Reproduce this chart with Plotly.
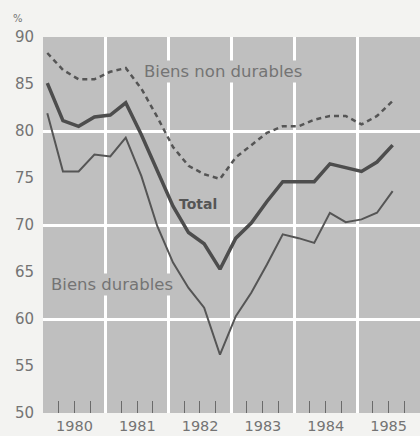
import pandas as pd
import plotly.graph_objects as go

quarters = ["1980Q1", "1980Q2", "1980Q3", "1980Q4",
            "1981Q1", "1981Q2", "1981Q3", "1981Q4",
            "1982Q1", "1982Q2", "1982Q3", "1982Q4",
            "1983Q1", "1983Q2", "1983Q3", "1983Q4",
            "1984Q1", "1984Q2", "1984Q3", "1984Q4",
            "1985Q1", "1985Q2", "1985Q3"]

non_durables = [88.3, 86.5, 85.5, 85.5, 86.3, 86.7, 84.5, 81.5, 78.3, 76.3, 75.4, 74.9,
                77.2, 78.5, 79.8, 80.5, 80.5, 81.2, 81.6, 81.6, 80.7, 81.6, 83.2]
total = [85.1, 81.1, 80.5, 81.5, 81.7, 83.0, 79.6, 75.8, 72.0, 69.2, 68.0, 65.3,
         68.6, 70.2, 72.5, 74.6, 74.6, 74.6, 76.5, 76.1, 75.7, 76.7, 78.5]
durables = [81.9, 75.7, 75.7, 77.5, 77.3, 79.3, 75.2, 69.9, 66.0, 63.3, 61.2, 56.2,
            60.3, 62.8, 65.8, 69.0, 68.6, 68.1, 71.3, 70.3, 70.6, 71.3, 73.6]

y_ticks = [50, 55, 60, 65, 70, 75, 80, 85, 90]
y_grid = [60, 70, 80]

# plot each quarter slightly after its start
x = pd.PeriodIndex(quarters, freq="Q").to_timestamp(how="start") + pd.Timedelta(days=25)

LINE = "#555555"
TEXT = "#747474"
BG = "#bfbfbf"
FONT = "DejaVu Sans, Liberation Sans, Arial, sans-serif"

fig = go.Figure()
fig.add_trace(go.Scatter(x=x, y=non_durables, mode="lines",
                         line=dict(color=LINE, width=2.5, dash="5px,4px"),
                         yaxis="y", showlegend=False, hoverinfo="skip"))
fig.add_trace(go.Scatter(x=x, y=total, mode="lines",
                         line=dict(color="#4d4d4d", width=3.5),
                         yaxis="y", showlegend=False, hoverinfo="skip"))
fig.add_trace(go.Scatter(x=x, y=durables, mode="lines",
                         line=dict(color=LINE, width=2),
                         yaxis="y2", showlegend=False, hoverinfo="skip"))

fig.update_layout(
    width=420, height=436,
    margin=dict(l=43, r=0, t=37, b=23),
    paper_bgcolor="#f3f3f1",
    plot_bgcolor=BG,
    font=dict(family=FONT, color=TEXT, size=15),
    xaxis=dict(
        type="date",
        range=["1980-01-01", "1986-01-01"],
        tick0="1980-01-01", dtick="M12",
        ticklabelmode="period",
        tickformat="%Y",
        ticks="",
        showgrid=True, gridcolor="white", gridwidth=3,
        zeroline=False, showline=False,
        tickfont=dict(size=14.5, color=TEXT),
        ticklabelstandoff=2,
        minor=dict(dtick="M3", tick0="1980-01-01", ticks="inside", ticklen=12,
                   tickwidth=1.3, tickcolor="#6a6a6a", showgrid=False),
    ),
    yaxis=dict(
        range=[50, 90], tickmode="array", tickvals=y_grid,
        showgrid=True, gridcolor="white", gridwidth=3,
        showticklabels=False, ticks="", zeroline=False, showline=False,
    ),
    yaxis2=dict(
        range=[50, 90], overlaying="y", side="left",
        tickmode="array", tickvals=y_ticks,
        showgrid=False, zeroline=False, showline=False, ticks="",
        tickfont=dict(size=15, color=TEXT), ticklabelstandoff=8,
    ),
    annotations=[
        dict(text="%", xref="paper", yref="paper", x=-0.085, y=1.05,
             xanchor="left", yanchor="middle", showarrow=False,
             font=dict(size=10, color=TEXT)),
        dict(text="Biens non durables", x="1981-08-01", y=86.3, xanchor="left",
             yanchor="middle", showarrow=False, bgcolor=BG,
             font=dict(size=16.5, color=TEXT)),
        dict(text="<b>Total</b>", x="1982-02-20", y=72.2, xanchor="left",
             yanchor="middle", showarrow=False,
             font=dict(size=14, color="#555555")),
        dict(text="Biens durables", x="1980-02-05", y=63.7, xanchor="left",
             yanchor="middle", showarrow=False, bgcolor=BG,
             font=dict(size=16.5, color=TEXT)),
    ],
)

fig.write_html("out.html", config={"displayModeBar": False},
               post_script="document.body.style.margin='0';document.body.style.overflow='hidden';")
